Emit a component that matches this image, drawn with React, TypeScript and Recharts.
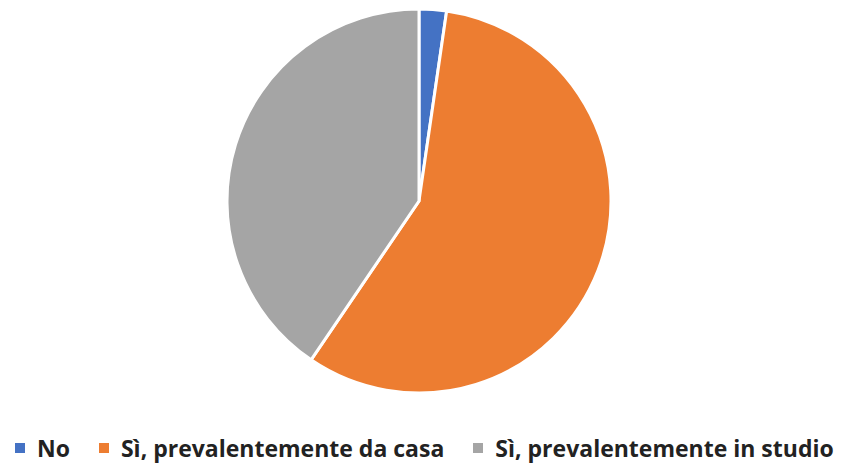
import React from "react";
import { Cell, Legend, Pie, PieChart } from "recharts";

const labels = ["No", "Sì, prevalentemente da casa", "Sì, prevalentemente in studio"];
const values = [2.3, 57.2, 40.5];
const colors = ["#4472c4", "#ed7d31", "#a5a5a5"];

const data = labels.map((label, i) => ({ name: label, value: values[i] }));

const renderLegend = () => (
  <div
    style={{
      display: "flex",
      alignItems: "center",
      fontFamily: "'Open Sans', sans-serif",
      fontWeight: 700,
      fontSize: 23,
      lineHeight: "30px",
      color: "#222",
      whiteSpace: "nowrap",
    }}
  >
    {data.map((entry, index) => (
      <div
        key={`leg-${index}`}
        style={{ display: "flex", alignItems: "center", marginRight: 29 }}
      >
        <span
          style={{
            display: "inline-block",
            width: 10,
            height: 10,
            background: colors[index],
            marginRight: 12,
          }}
        />
        <span>{entry.name}</span>
      </div>
    ))}
  </div>
);

const App = () => {
  return (
    <div style={{ position: "absolute", left: 0, top: 0, background: "#fff" }}>
      <PieChart width={842} height={464} margin={{ top: 0, right: 0, bottom: 0, left: 0 }}>
        <Pie
          data={data}
          dataKey="value"
          cx={419}
          cy={201}
          outerRadius={192}
          startAngle={90}
          endAngle={-270}
          stroke="#ffffff"
          strokeWidth={3}
          isAnimationActive={false}
        >
          {data.map((entry, index) => (
            <Cell key={`cell-${index}`} fill={colors[index]} />
          ))}
        </Pie>
        <Legend
          content={renderLegend}
          wrapperStyle={{ position: "absolute", left: 15, top: 433, width: 830 }}
        />
      </PieChart>
    </div>
  );
};

export default App;
